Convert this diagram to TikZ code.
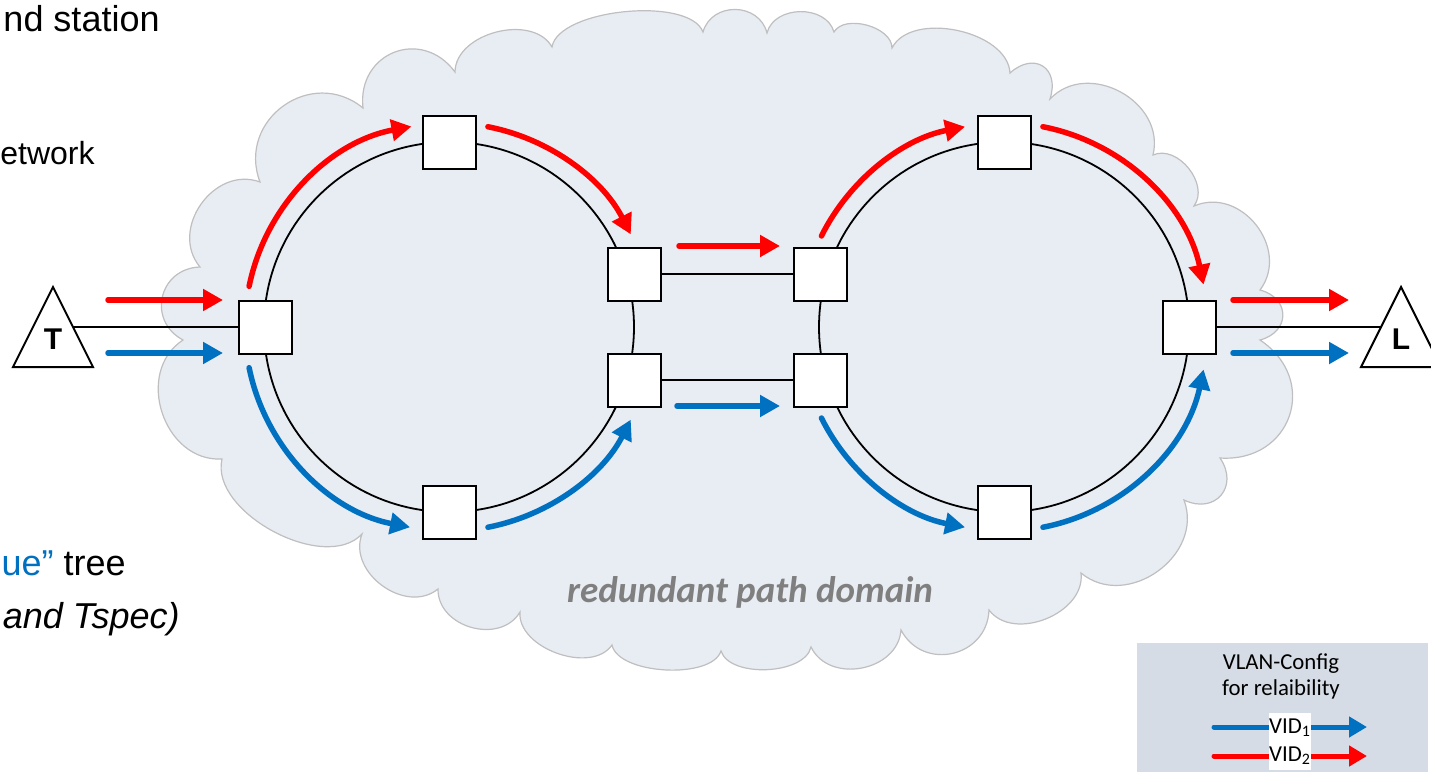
\documentclass[tikz,border=0pt]{standalone}
\usepackage{fontspec}
\setmainfont{Liberation Sans}
\newfontfamily\calibri{Carlito}
\usetikzlibrary{arrows.meta}
\definecolor{vred}{HTML}{FF0000}
\definecolor{vblue}{HTML}{0070C0}
\definecolor{cloudfill}{HTML}{E8ECF3}
\definecolor{cloudline}{HTML}{BFBFBF}
\definecolor{legendfill}{HTML}{D6DCE5}
\definecolor{domaingrey}{HTML}{7F7F7F}
\newcommand\ringarc[5]{\draw[#1] (#2) ++(#3:#5) arc[start angle=#3, end angle=#4, radius=#5];}
\begin{document}
\begin{tikzpicture}[x=0.5pt, y=-0.5pt,
  bridge/.style={draw=black, fill=white, line width=1pt, minimum size=26.5pt, inner sep=0pt},
  link/.style={draw=black, line width=0.9pt},
  flow/.style={line width=2.75pt, line cap=round, -{Triangle[length=10pt,width=10.5pt]}},
  redflow/.style={flow, draw=vred},
  blueflow/.style={flow, draw=vblue},
  legflow/.style={line width=2.5pt, line cap=round, -{Triangle[length=9pt,width=10pt]}},
  puff/.style={bend left=75, looseness=#1},
  cloud/.style={draw=cloudline, fill=cloudfill, line width=0.6pt},
  tri/.style={draw=black, fill=white, line width=1pt, line join=miter},
  trilabel/.style={font=\bfseries\fontsize{15}{18}\selectfont, inner sep=0pt},
  sidetext/.style={anchor=base east, inner sep=0pt},
  legtext/.style={font=\calibri\fontsize{11.4}{13}\selectfont, inner sep=0pt, anchor=base},
  vidlabel/.style={font=\calibri\fontsize{11.4}{13}\selectfont, fill=white, inner sep=0pt, minimum width=20pt, minimum height=14.25pt}
]
\useasboundingbox (0,0) rectangle (1431,772);
\clip (0,0) rectangle (1431,772);

% cloud
\draw[cloud] (183,340) to[puff=1.41] (200,267) to[puff=1.2] (260,182) to[puff=1.34] (363,108)
  to[puff=1.45] (455,72) to[puff=1.0] (552,47) to[puff=0.65] (703,32) to[puff=1.27] (767,33)
  to[puff=1.1] (834,32) to[puff=0.9] (892,48) to[puff=0.9] (1010,73) to[puff=1.75] (1050,99)
  to[puff=1.2] (1153,155) to[puff=1.05] (1194,206) to[puff=1.23] (1260,290) to[puff=1.62] (1260,340)
  to[puff=1.48] (1220,458) to[puff=1.6] (1184,500) to[puff=1.2] (1081,573) to[puff=1.05] (989,610)
  to[puff=1.34] (901,630) to[puff=1.16] (811,647) to[puff=0.81] (721,651) to[puff=0.71] (612,645)
  to[puff=0.95] (520,612) to[puff=1.16] (438,589) to[puff=1.13] (362,534) to[puff=0.88] (222,459)
  to[puff=1.2] (183,340) -- cycle;

\node[font=\calibri\bfseries\itshape\fontsize{18.5}{22}\selectfont, text=domaingrey, anchor=base, inner sep=0pt] (domain) at (750,602) {redundant path domain};

% ring centres
\coordinate (cL) at (449,327);
\coordinate (cR) at (1004,327);
\draw[link] (cL) circle[radius=185];
\draw[link] (cR) circle[radius=185];

% bridges
\node[bridge] (lL) at (265,327) {};
\node[bridge] (lT) at (449,142) {};
\node[bridge] (lB) at (449,512) {};
\node[bridge] (lRT) at (634,274) {};
\node[bridge] (lRB) at (634,380) {};
\node[bridge] (rLT) at (820,274) {};
\node[bridge] (rLB) at (820,380) {};
\node[bridge] (rT) at (1004,142) {};
\node[bridge] (rB) at (1004,512) {};
\node[bridge] (rR) at (1189,327) {};

\draw[link] (lRT) -- (rLT);
\draw[link] (lRB) -- (rLB);

% talker and listener
\draw[tri] (53,287) -- (93,367) -- (13,367) -- cycle;
\draw[tri] (1401,287) -- (1441,367) -- (1361,367) -- cycle;
\node[trilabel] (T) at (53,339) {T};
\node[trilabel] (L) at (1401,339) {L};
\coordinate (Tport) at (73,327);
\coordinate (Lport) at (1381,327);
\draw[link] (Tport) -- (lL);
\draw[link] (rR) -- (Lport);

% straight flows
\draw[redflow] (108,300) -- (223,300);
\draw[blueflow] (108,353) -- (223,353);
\draw[redflow] (1233,300) -- (1349,300);
\draw[blueflow] (1233,353) -- (1349,353);
\draw[redflow] (679,246) -- (780,246);
\draw[blueflow] (677,406) -- (780,406);

% ring flows
\ringarc{redflow}{cL}{-168.5}{-100.6}{204}
\ringarc{redflow}{cL}{-79}{-27}{204}
\ringarc{blueflow}{cL}{168.5}{101}{204}
\ringarc{blueflow}{cL}{79}{27}{204}
\ringarc{redflow}{cR}{-153.5}{-101}{204}
\ringarc{redflow}{cR}{-79}{-12}{204}
\ringarc{blueflow}{cR}{153.5}{101}{204}
\ringarc{blueflow}{cR}{79}{12}{204}

% left side text
\node[sidetext, font=\fontsize{18}{22}\selectfont] (txt1) at (160,31) {nd station};
\node[sidetext, font=\fontsize{16}{19}\selectfont] (txt2) at (95,164) {etwork};
\node[sidetext, font=\fontsize{18}{22}\selectfont] (txt3) at (126,575) {\textcolor{vblue}{ue”} tree};
\node[sidetext, font=\itshape\fontsize{18}{22}\selectfont] (txt4) at (180,628) {and Tspec)};

% legend
\node[fill=legendfill, minimum width=145.5pt, minimum height=64.5pt, anchor=north west, inner sep=0pt] (legend) at (1137,643) {};
\node[legtext] (leg1) at (1281,669) {VLAN-Config};
\node[legtext] (leg2) at (1281,695) {for relaibility};
\coordinate (b1) at (1214,727);
\coordinate (b2) at (1367,727);
\coordinate (r1) at (1214,756);
\coordinate (r2) at (1367,756);
\draw[legflow, draw=vblue] (b1) -- (b2);
\draw[legflow, draw=vred] (r1) -- (r2);
\node[vidlabel] (vid1) at (1290,727.5) {VID\textsubscript{1}};
\node[vidlabel] (vid2) at (1290,756) {VID\textsubscript{2}};
\end{tikzpicture}
\end{document}
